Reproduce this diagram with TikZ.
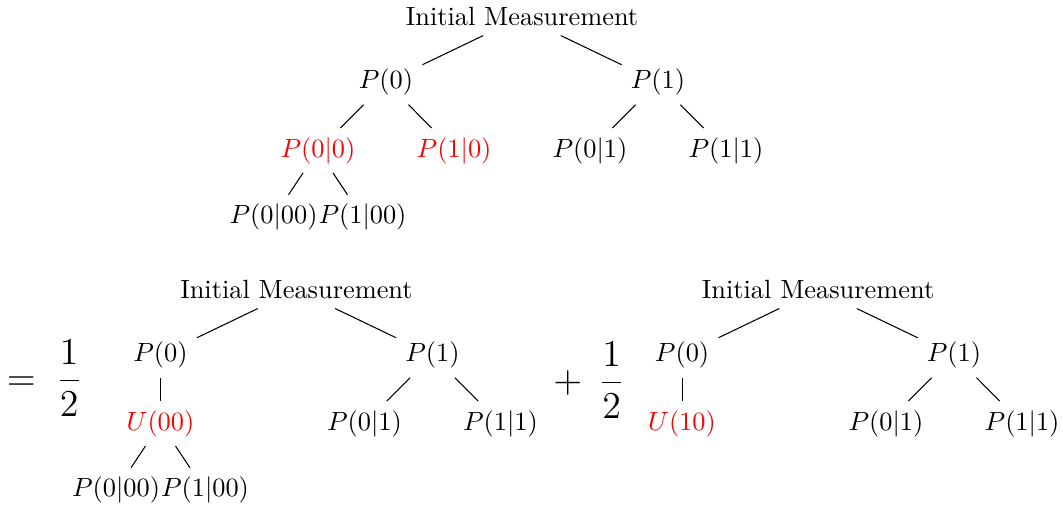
\documentclass[tikz,border=0pt]{standalone}
\usepackage{amsmath,amssymb}
\usepackage{tikz}

\begin{document}
\begin{tikzpicture}[hit/.style={text=red}, coef/.style={font=\Large}]
\useasboundingbox (0,0) rectangle (14.173,6.773);
% top tree
\begin{scope}[shift={(6.96,6.547)}]
\node (t) at (0,0) {Initial Measurement};
\node (t0) at (-1.813,-0.87) {$P(0)$};
\node (t1) at (1.813,-0.87) {$P(1)$};
\node[hit] (t00) at (-2.72,-1.78) {$P(0|0)$};
\node[hit] (t10) at (-0.906,-1.78) {$P(1|0)$};
\node (t01) at (0.906,-1.78) {$P(0|1)$};
\node (t11) at (2.72,-1.78) {$P(1|1)$};
\node (t000) at (-3.313,-2.67) {$P(0|00)$};
\node (t100) at (-2.127,-2.67) {$P(1|00)$};
\end{scope}
\foreach \a/\b in {t/t0, t/t1, t0/t00, t0/t10, t1/t01, t1/t11, t00/t000, t00/t100}
  \draw (\a) -- (\b);
% first half
\node[coef] (eq) at (0.59,1.733) {$=\;\dfrac{1}{2}$};
\begin{scope}[shift={(3.953,2.907)}]
\node (l) at (0,0) {Initial Measurement};
\node (l0) at (-1.813,-0.87) {$P(0)$};
\node (l1) at (1.813,-0.87) {$P(1)$};
\node[hit] (lu) at (-1.813,-1.78) {$U(00)$};
\node (l01) at (0.906,-1.78) {$P(0|1)$};
\node (l11) at (2.72,-1.78) {$P(1|1)$};
\node (l000) at (-2.406,-2.67) {$P(0|00)$};
\node (l100) at (-1.22,-2.67) {$P(1|00)$};
\end{scope}
\foreach \a/\b in {l/l0, l/l1, l0/lu, l1/l01, l1/l11, lu/l000, lu/l100}
  \draw (\a) -- (\b);
% second half
\node[coef] (pl) at (7.85,1.707) {$+\;\,\dfrac{1}{2}$};
\begin{scope}[shift={(10.907,2.907)}]
\node (r) at (0,0) {Initial Measurement};
\node (r0) at (-1.813,-0.87) {$P(0)$};
\node (r1) at (1.813,-0.87) {$P(1)$};
\node[hit] (ru) at (-1.813,-1.78) {$U(10)$};
\node (r01) at (0.906,-1.78) {$P(0|1)$};
\node (r11) at (2.72,-1.78) {$P(1|1)$};
\end{scope}
\foreach \a/\b in {r/r0, r/r1, r0/ru, r1/r01, r1/r11}
  \draw (\a) -- (\b);
\end{tikzpicture}
\end{document}
